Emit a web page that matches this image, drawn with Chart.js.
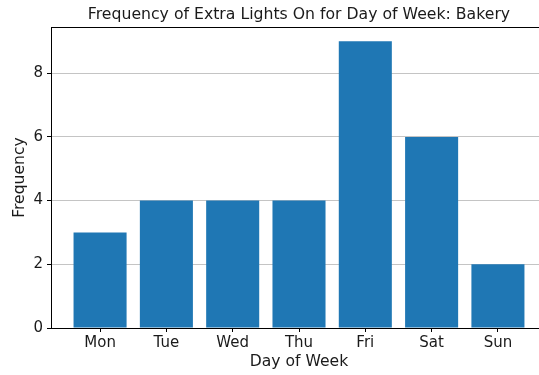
<!DOCTYPE html>
<html>
<head>
<meta charset="utf-8">
<script src="https://cdn.jsdelivr.net/npm/chart.js@4"></script>
<style>
    html, body { margin: 0; padding: 0; overflow: hidden; background: #fff; }
    #wrap { width: 547px; height: 375px; }
</style>
</head>
<body>
<div id="wrap"><canvas id="lightsChart"></canvas></div>
<script>
const days = ['Mon', 'Tue', 'Wed', 'Thu', 'Fri', 'Sat', 'Sun'];
const frequency = [3, 4, 4, 4, 9, 6, 2];
const yTicks = [0, 2, 4, 6, 8];

const chartTitle = 'Frequency of Extra Lights On for Day of Week: Bakery';
const FONT = "'DejaVu Sans', sans-serif";
const TEXT = '#1a1a1a';

// title centred over the plot area, plus the top spine
const frame = {
    id: 'frame',
    afterDraw(chart) {
        const { ctx, chartArea } = chart;
        ctx.save();
        ctx.strokeStyle = '#000';
        ctx.lineWidth = 1;
        ctx.beginPath();
        ctx.moveTo(chartArea.left, chartArea.top + 0.5);
        ctx.lineTo(chartArea.right, chartArea.top + 0.5);
        ctx.stroke();
        ctx.fillStyle = TEXT;
        ctx.font = `15.7px ${FONT}`;
        ctx.textAlign = 'center';
        ctx.textBaseline = 'middle';
        ctx.fillText(chartTitle, (chartArea.left + chartArea.right) / 2, 15);
        ctx.restore();
    }
};

const ctx = document.getElementById('lightsChart').getContext('2d');

new Chart(ctx, {
    type: 'bar',
    data: {
        datasets: [{
            data: frequency.map((v, i) => ({ x: i, y: v })),
            backgroundColor: '#1f77b4',
            borderWidth: 0,
            barPercentage: 0.8,
            categoryPercentage: 1
        }]
    },
    options: {
        responsive: true,
        maintainAspectRatio: false,
        animation: false,
        layout: { padding: { top: 27, right: 0, left: 0, bottom: 0 } },
        plugins: {
            legend: { display: false },
            tooltip: { enabled: false }
        },
        scales: {
            x: {
                type: 'linear',
                offset: false,
                min: -0.74,
                max: 6.74,
                afterBuildTicks: scale => { scale.ticks = days.map((d, i) => ({ value: i })); },
                afterFit: scale => { scale.height = 47; },
                ticks: {
                    callback: v => days[v],
                    color: TEXT,
                    font: { family: FONT, size: 15 },
                    padding: 2,
                    maxRotation: 0,
                    autoSkip: false
                },
                grid: {
                    offset: false,
                    drawOnChartArea: false,
                    tickLength: 4,
                    tickColor: '#000'
                },
                border: { color: '#000', width: 1 },
                title: {
                    display: true,
                    text: 'Day of Week',
                    color: TEXT,
                    font: { family: FONT, size: 15.6 },
                    padding: { top: 0, bottom: 4 }
                }
            },
            y: {
                min: 0,
                max: 9.45,
                z: 1,
                afterBuildTicks: scale => { scale.ticks = yTicks.map(v => ({ value: v })); },
                afterFit: scale => { scale.width = 51; },
                ticks: {
                    color: TEXT,
                    font: { family: FONT, size: 15 },
                    padding: 4
                },
                grid: {
                    color: '#c4c4c4',
                    tickColor: '#000',
                    tickLength: 4
                },
                border: { color: '#000', width: 1 },
                title: {
                    display: true,
                    text: 'Frequency',
                    color: TEXT,
                    font: { family: FONT, size: 15.6 },
                    padding: { top: 11, bottom: 0 }
                }
            }
        }
    },
    plugins: [frame]
});
</script>
</body>
</html>
